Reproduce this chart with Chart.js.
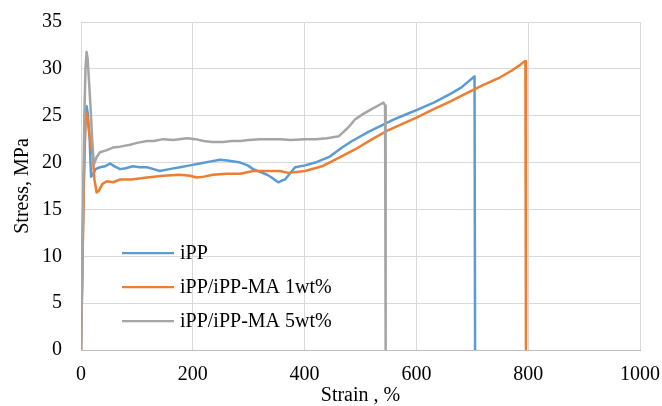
<!DOCTYPE html>
<html>
<head>
<meta charset="utf-8">
<script src="https://cdn.jsdelivr.net/npm/chart.js@4.4.1/dist/chart.umd.min.js"></script>
<style>
  html, body { margin: 0; padding: 0; background: #fff; }
  #wrap { width: 662px; height: 406px; }
</style>
</head>
<body>
<div id="wrap"><canvas id="stressChart" width="662" height="406"></canvas></div>
<script>
// series names
const seriesNames = ["iPP", "iPP/iPP-MA 1wt%", "iPP/iPP-MA 5wt%"];

// strain (%) and stress (MPa)
const strainIPP = [0, 2, 4, 6, 8, 10, 12, 14, 15.5, 17, 18, 21, 26, 34, 43, 52, 60, 70, 80, 93, 105, 118, 130, 141, 158, 177, 195, 213, 230, 249, 265, 285, 298, 308, 320, 333, 341, 350, 354, 360, 365, 372, 383, 401, 419, 444, 467, 485, 515, 539, 560, 580, 600, 631, 660, 680, 700, 704, 705];
const stressIPP = [0, 7, 15, 21, 24.8, 26.0, 25.3, 23.8, 22.5, 20.0, 18.5, 18.7, 19.3, 19.5, 19.6, 19.9, 19.6, 19.3, 19.4, 19.6, 19.5, 19.5, 19.3, 19.1, 19.3, 19.5, 19.7, 19.9, 20.1, 20.3, 20.2, 20.0, 19.7, 19.3, 19.0, 18.7, 18.4, 18.0, 17.9, 18.1, 18.2, 18.7, 19.5, 19.7, 20.0, 20.6, 21.6, 22.3, 23.3, 24.0, 24.6, 25.1, 25.6, 26.4, 27.3, 28.0, 29.0, 29.2, 0];

const strainMA1 = [0, 2, 4, 6, 8, 9.5, 11, 13, 16, 21, 24, 28, 32, 38, 46, 58, 70, 90, 118, 147, 177, 195, 207, 220, 236, 260, 285, 308, 333, 356, 371, 401, 431, 461, 490, 521, 551, 574, 600, 631, 660, 690, 720, 750, 770, 785, 793, 795, 796];
const stressMA1 = [0, 7, 14, 20, 24.5, 25.3, 25.0, 24.0, 22.5, 20.7, 18.2, 16.8, 17.0, 17.7, 18.0, 17.9, 18.2, 18.2, 18.4, 18.6, 18.7, 18.6, 18.4, 18.5, 18.7, 18.8, 18.8, 19.1, 19.1, 19.1, 18.9, 19.1, 19.6, 20.5, 21.4, 22.5, 23.5, 24.1, 24.8, 25.7, 26.5, 27.4, 28.3, 29.1, 29.8, 30.4, 30.8, 30.8, 0];

const strainMA5 = [0, 2, 4, 6, 8, 10, 12, 14, 17, 20, 23, 28, 34, 45, 57, 70, 88, 100, 118, 130, 147, 165, 190, 205, 219, 235, 254, 270, 285, 300, 321, 340, 357, 375, 401, 420, 440, 461, 479, 490, 505, 520, 535, 541, 544, 545];
const stressMA5 = [0, 8, 17, 25, 30, 31.8, 31.0, 29.0, 26.0, 22.5, 19.8, 20.6, 21.1, 21.3, 21.6, 21.7, 21.9, 22.1, 22.3, 22.3, 22.5, 22.4, 22.6, 22.5, 22.3, 22.2, 22.2, 22.3, 22.3, 22.4, 22.5, 22.5, 22.5, 22.4, 22.5, 22.5, 22.6, 22.8, 23.8, 24.6, 25.2, 25.7, 26.2, 26.4, 26.1, 0];

const xTicks = [0, 200, 400, 600, 800, 1000];
const yTicks = [0, 5, 10, 15, 20, 25, 30, 35];

const colours = ['#5B9BD5', '#ED7D31', '#A5A5A5'];

function toPoints(xs, ys) {
  return xs.map((x, i) => ({ x: x, y: ys[i] }));
}

const FONT = "'Liberation Serif', 'Times New Roman', serif";

// legend sits inside the plot, lower left
const insideLegend = {
  id: 'insideLegend',
  afterDraw(chart) {
    const ctx = chart.ctx;
    const area = chart.chartArea;
    ctx.save();
    ctx.font = '20px ' + FONT;
    ctx.textBaseline = 'middle';
    ctx.fillStyle = '#000';
    seriesNames.forEach((name, i) => {
      const y = area.top + 231 + i * 34;
      const x0 = area.left + 41;
      ctx.strokeStyle = colours[i];
      ctx.lineWidth = 2.25;
      ctx.beginPath();
      ctx.moveTo(x0, y);
      ctx.lineTo(x0 + 52, y);
      ctx.stroke();
      ctx.fillText(name, x0 + 58, y + 1);
    });
    ctx.restore();
  }
};

const stressData = {
  datasets: [
    { label: seriesNames[0], data: toPoints(strainIPP, stressIPP), borderColor: colours[0], order: 2 },
    { label: seriesNames[1], data: toPoints(strainMA1, stressMA1), borderColor: colours[1], order: 1 },
    { label: seriesNames[2], data: toPoints(strainMA5, stressMA5), borderColor: colours[2], order: 0 }
  ]
};
stressData.datasets.forEach(d => {
  d.showLine = true;
  d.pointRadius = 0;
  d.borderWidth = 2.5;
  d.borderJoinStyle = 'round';
  d.tension = 0;
  d.fill = false;
});

// tick padding counts twice in chart.js layout, so use invisible tick marks as the gap
const stressOptions = {
  responsive: false,
  animation: false,
  layout: { padding: { top: 22, right: 22, left: 0, bottom: 0 } },
  plugins: {
    legend: { display: false },
    tooltip: { enabled: false }
  },
  scales: {
    x: {
      type: 'linear',
      min: 0,
      max: 1000,
      afterBuildTicks: s => { s.ticks = xTicks.map(v => ({ value: v })); },
      afterFit: s => { s.height = 56; },
      grid: { color: '#d9d9d9', drawTicks: true, tickLength: 13, tickColor: 'rgba(0,0,0,0)' },
      border: { color: '#bfbfbf', width: 1 },
      ticks: { color: '#000', padding: 0, maxRotation: 0, callback: v => String(v), font: { family: FONT, size: 20 } },
      title: { display: true, text: 'Strain , %', color: '#000', padding: 0, font: { family: FONT, size: 20, lineHeight: 1 } }
    },
    y: {
      min: 0,
      max: 35,
      afterBuildTicks: s => { s.ticks = yTicks.map(v => ({ value: v })); },
      afterFit: s => { s.width = 81; },
      grid: { color: '#d9d9d9', drawTicks: true, tickLength: 19, tickColor: 'rgba(0,0,0,0)' },
      border: { display: false },
      ticks: { color: '#000', padding: 0, callback: v => String(v), font: { family: FONT, size: 20 } },
      title: { display: true, text: 'Stress, MPa', color: '#000', padding: { top: 13, bottom: 0 }, font: { family: FONT, size: 20, lineHeight: 1 } }
    }
  }
};

const stressChart = new Chart(document.getElementById('stressChart'), {
  type: 'scatter',
  data: stressData,
  options: stressOptions,
  plugins: [insideLegend]
});
</script>
</body>
</html>
